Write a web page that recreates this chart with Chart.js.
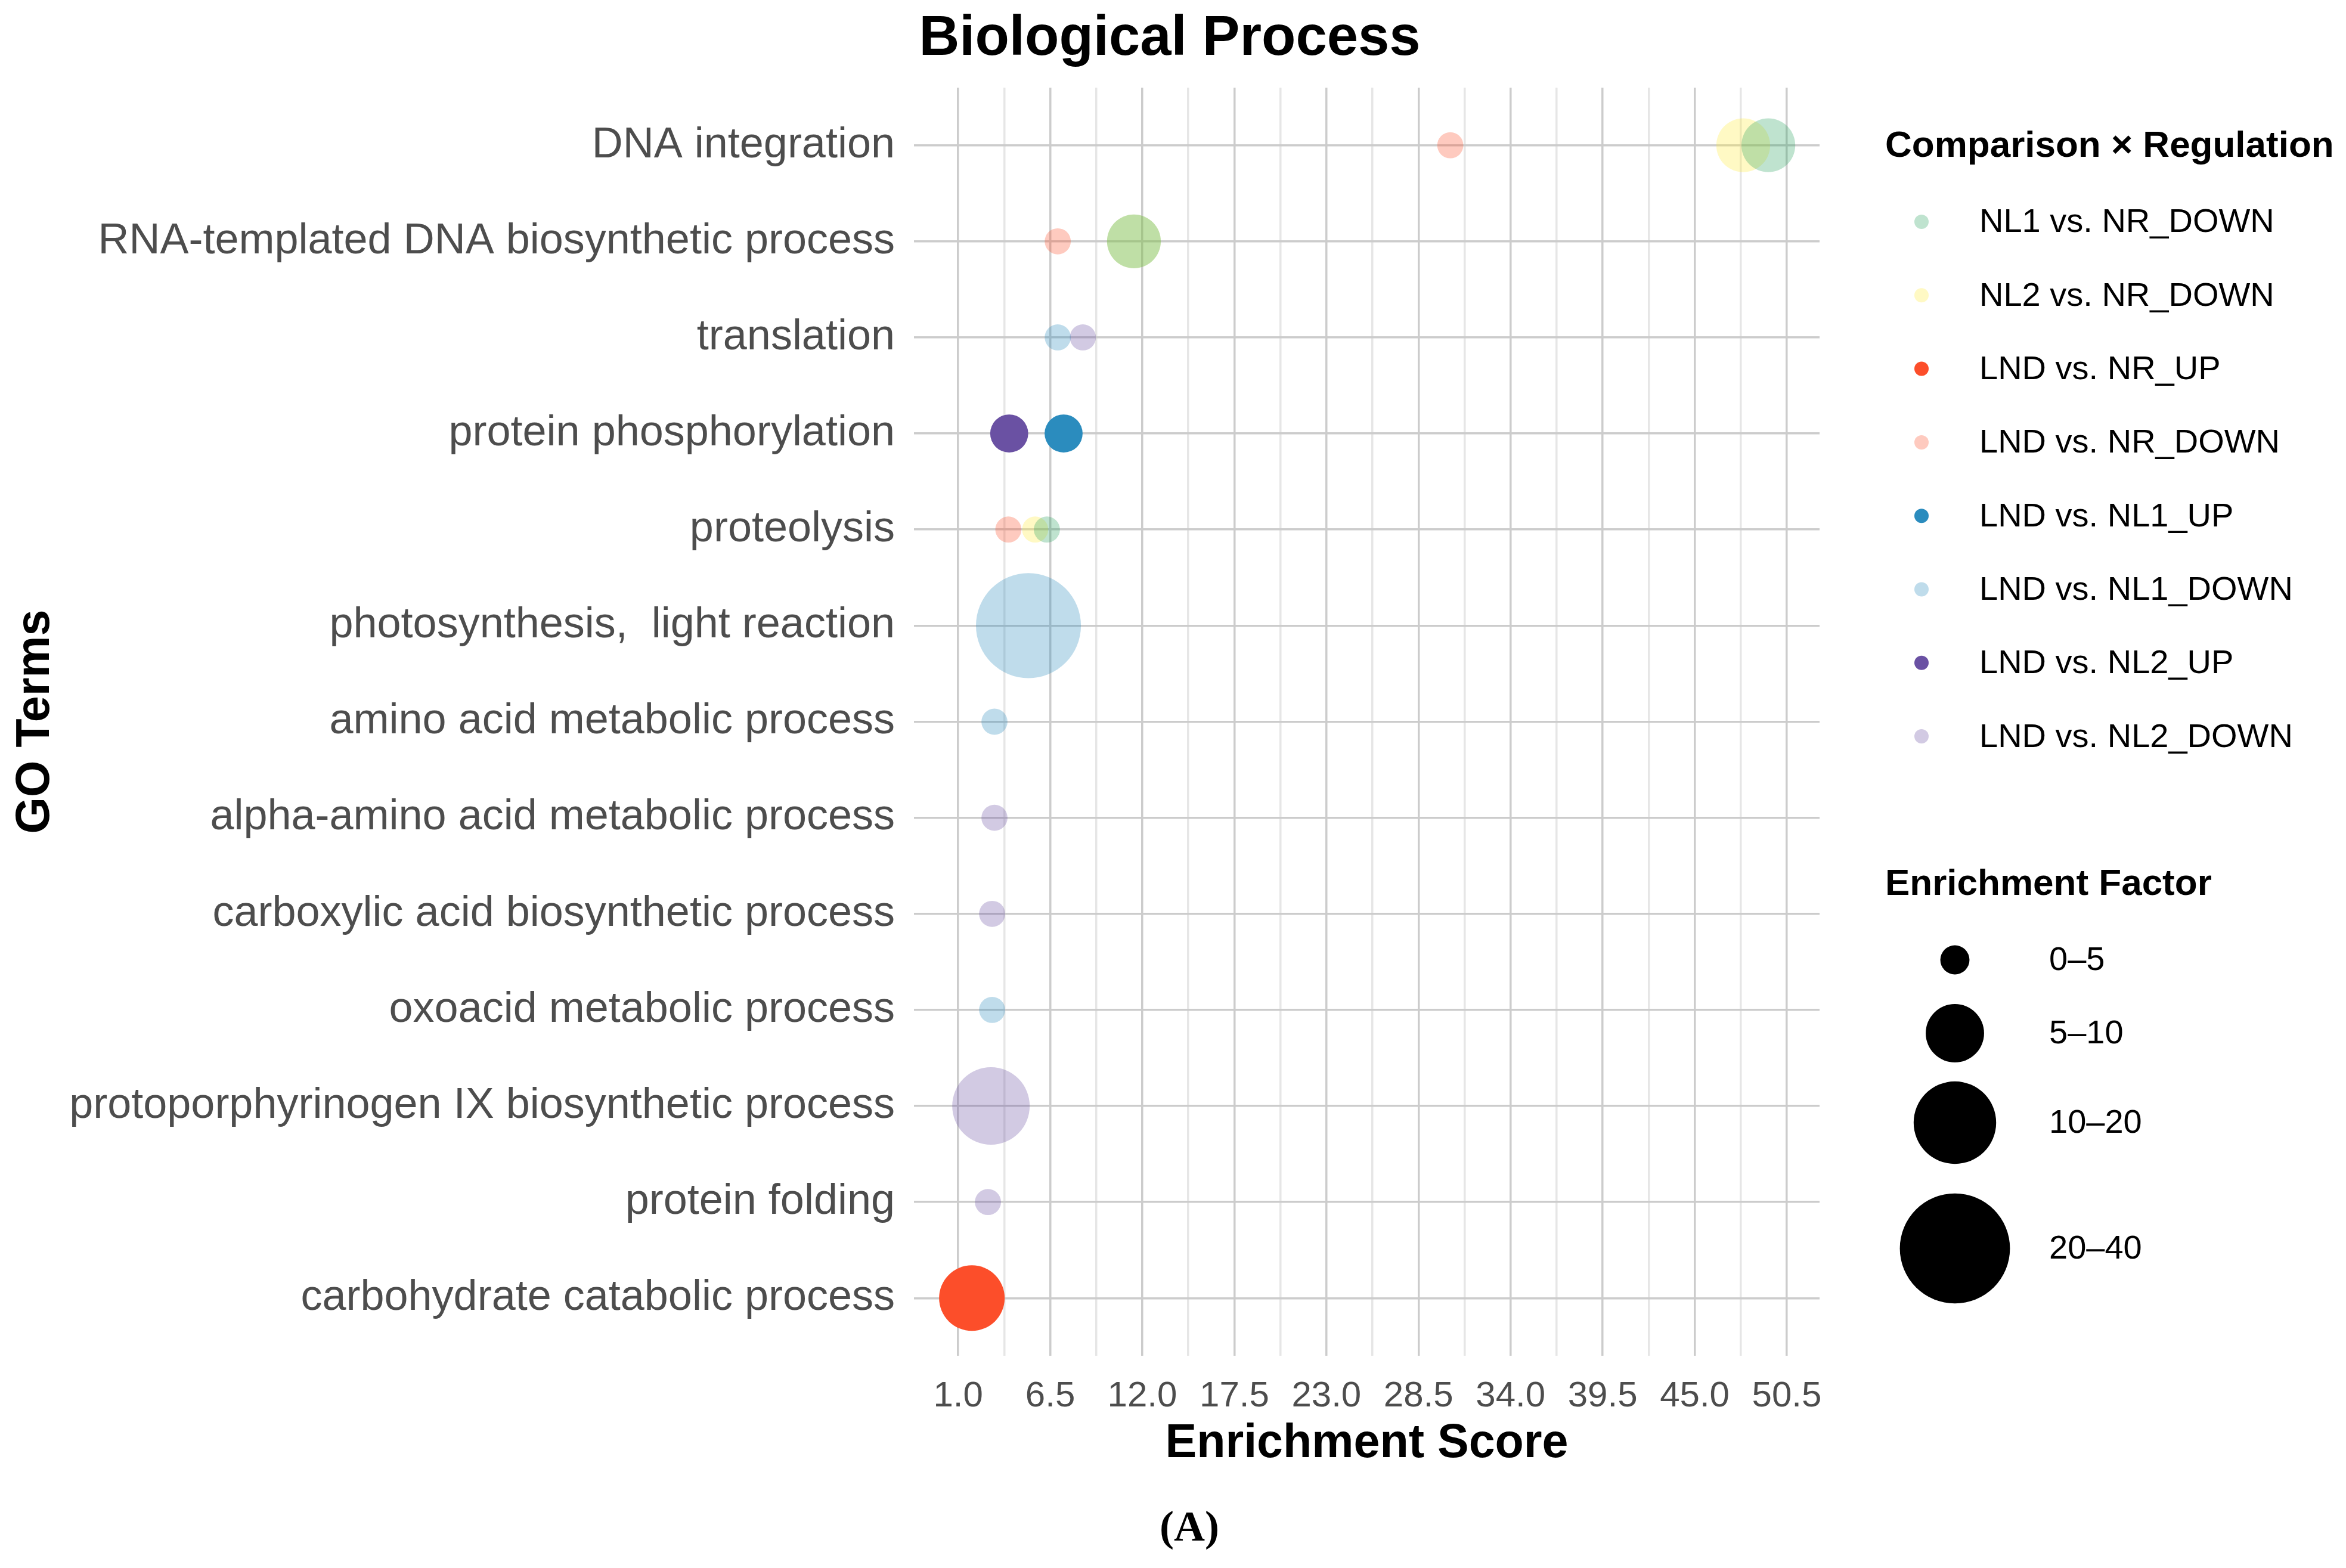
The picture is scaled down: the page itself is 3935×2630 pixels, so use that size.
<!DOCTYPE html>
<html>
<head>
<meta charset="utf-8">
<script src="https://cdn.jsdelivr.net/npm/chart.js@4.4.1/dist/chart.umd.min.js"></script>
<style>
  html, body { margin: 0; padding: 0; background: #fff; }
  #wrap { width: 3935px; height: 2630px; }
</style>
</head>
<body>
<div id="wrap"><canvas id="bubbleChart" width="3935" height="2630"></canvas></div>
<script>
// GO terms, top to bottom
const goTerms = [
    'DNA integration',
    'RNA-templated DNA biosynthetic process',
    'translation',
    'protein phosphorylation',
    'proteolysis',
    'photosynthesis,  light reaction',
    'amino acid metabolic process',
    'alpha-amino acid metabolic process',
    'carboxylic acid biosynthetic process',
    'oxoacid metabolic process',
    'protoporphyrinogen IX biosynthetic process',
    'protein folding',
    'carbohydrate catabolic process'
];

// legend order
const comparisons = [
    'NL1 vs. NR_DOWN', 'NL2 vs. NR_DOWN', 'LND vs. NR_UP', 'LND vs. NR_DOWN',
    'LND vs. NL1_UP', 'LND vs. NL1_DOWN', 'LND vs. NL2_UP', 'LND vs. NL2_DOWN'
];
const comparisonColors = [
    'rgba(44,162,95,0.3)', 'rgba(255,235,59,0.3)', 'rgba(252,78,42,1)', 'rgba(252,78,42,0.3)',
    'rgba(43,140,190,1)', 'rgba(43,140,190,0.3)', 'rgba(106,81,163,1)', 'rgba(106,81,163,0.3)'
];

// one entry per bubble
const pointTerm = [0, 0, 0, 1, 1, 1, 2, 2, 3, 3, 4, 4, 4, 5, 6, 7, 8, 9, 10, 11, 12];
const pointComparison = [
    'LND vs. NR_DOWN', 'NL2 vs. NR_DOWN', 'NL1 vs. NR_DOWN',
    'LND vs. NR_DOWN', 'NL1 vs. NR_DOWN', 'NL2 vs. NR_DOWN',
    'LND vs. NL1_DOWN', 'LND vs. NL2_DOWN',
    'LND vs. NL2_UP', 'LND vs. NL1_UP',
    'LND vs. NR_DOWN', 'NL2 vs. NR_DOWN', 'NL1 vs. NR_DOWN',
    'LND vs. NL1_DOWN', 'LND vs. NL1_DOWN', 'LND vs. NL2_DOWN', 'LND vs. NL2_DOWN',
    'LND vs. NL1_DOWN', 'LND vs. NL2_DOWN', 'LND vs. NL2_DOWN', 'LND vs. NR_UP'
];
const pointScore = [30.4, 47.9, 49.4, 6.95, 11.5, 11.5, 6.95, 8.45, 4.05, 7.3, 4.0, 5.6, 6.3,
    5.2, 3.17, 3.17, 3.03, 3.03, 2.96, 2.78, 1.82];
const pointFactor = [1.6, 6.8, 6.8, 1.6, 6.8, 6.8, 1.6, 1.6, 3.4, 3.4, 1.6, 1.6, 1.6,
    25.9, 1.6, 1.6, 1.6, 1.6, 14.1, 1.6, 10.1];

// x axis
const scoreTicks = [1.0, 6.5, 12.0, 17.5, 23.0, 28.5, 34.0, 39.5, 45.0, 50.5];
const scoreTickLabels = ['1.0', '6.5', '12.0', '17.5', '23.0', '28.5', '34.0', '39.5', '45.0', '50.5'];

// size legend
const factorLabels = ['0\u20135', '5\u201310', '10\u201320', '20\u201340'];
const factorLegendValues = [2, 8, 16, 28.5];

const FONT = '"Liberation Sans", Arial, sans-serif';
Chart.defaults.font.family = FONT;

function bubbleRadius(f) {
    return 17.3 * Math.sqrt(f);
}

// major + minor grid positions
const gridValues = [];
scoreTicks.forEach((v, i) => {
    gridValues.push(v);
    if (i < scoreTicks.length - 1) gridValues.push((v + scoreTicks[i + 1]) / 2);
});

const datasets = comparisons.map((name, i) => ({
    label: name,
    backgroundColor: comparisonColors[i],
    borderWidth: 0,
    hoverBorderWidth: 0,
    data: pointComparison
        .map((c, k) => c === name ? { x: pointScore[k], y: pointTerm[k], r: bubbleRadius(pointFactor[k]) } : null)
        .filter(p => p !== null)
}));

// title, caption and both legends
const extras = {
    id: 'extras',
    afterDraw(chart) {
        const ctx = chart.ctx;
        ctx.save();
        ctx.textBaseline = 'middle';
        ctx.fillStyle = '#000';

        ctx.textAlign = 'center';
        ctx.font = 'bold 94px ' + FONT;
        ctx.fillText('Biological Process', 1962, 66);

        ctx.font = 'bold 72px "Liberation Serif", "Times New Roman", serif';
        ctx.fillText('(A)', 1995, 2565);

        ctx.textAlign = 'left';
        ctx.font = 'bold 62px ' + FONT;
        ctx.fillText('Comparison \u00d7 Regulation', 3162, 246);
        comparisons.forEach((name, i) => {
            const y = 372 + i * 123.3;
            ctx.beginPath();
            ctx.arc(3223, y, 12, 0, Math.PI * 2);
            ctx.fillStyle = comparisonColors[i];
            ctx.fill();
            ctx.fillStyle = '#000';
            ctx.font = '56px ' + FONT;
            ctx.fillText(name, 3320, y + 2);
        });

        ctx.font = 'bold 62px ' + FONT;
        ctx.fillText('Enrichment Factor', 3162, 1484);
        const sizeY = [1610, 1733, 1883, 2094];
        factorLabels.forEach((lab, i) => {
            ctx.beginPath();
            ctx.arc(3279, sizeY[i], bubbleRadius(factorLegendValues[i]), 0, Math.PI * 2);
            ctx.fillStyle = '#000';
            ctx.fill();
            ctx.font = '56px ' + FONT;
            ctx.fillText(lab, 3437, sizeY[i] + 2);
        });
        ctx.restore();
    }
};

const ctx = document.getElementById('bubbleChart').getContext('2d');

new Chart(ctx, {
    type: 'bubble',
    data: { datasets: datasets },
    plugins: [extras],
    options: {
        responsive: false,
        animation: false,
        devicePixelRatio: 1,
        layout: { padding: { top: 147, right: 883, bottom: 0, left: 0 } },
        plugins: {
            legend: { display: false },
            tooltip: { enabled: false },
            title: { display: false }
        },
        scales: {
            x: {
                type: 'linear',
                min: -1.64,
                max: 52.46,
                afterBuildTicks: s => { s.ticks = gridValues.map(v => ({ value: v })); },
                afterFit: s => { s.height = 356; },
                ticks: {
                    autoSkip: false,
                    maxRotation: 0,
                    minRotation: 0,
                    padding: 32,
                    color: '#4D4D4D',
                    font: { size: 60 },
                    callback: v => {
                        const i = scoreTicks.indexOf(v);
                        return i >= 0 ? scoreTickLabels[i] : '';
                    }
                },
                grid: {
                    drawTicks: false,
                    lineWidth: 3.5,
                    color: c => scoreTicks.includes(c.tick.value) ? '#CCCCCC' : '#E6E6E6'
                },
                border: { display: false },
                title: {
                    display: true,
                    text: 'Enrichment Score',
                    color: '#000',
                    font: { size: 79, weight: 'bold' },
                    padding: { top: 0, bottom: 160 }
                }
            },
            y: {
                type: 'linear',
                reverse: true,
                min: -0.6,
                max: 12.6,
                afterBuildTicks: s => { s.ticks = goTerms.map((t, i) => ({ value: i })); },
                afterFit: s => { s.width = 1533; },
                ticks: {
                    autoSkip: false,
                    padding: 32,
                    color: '#4D4D4D',
                    font: { size: 72 },
                    callback: v => goTerms[v]
                },
                grid: { drawTicks: false, lineWidth: 3.5, color: '#CCCCCC' },
                border: { display: false },
                title: {
                    display: true,
                    text: 'GO Terms',
                    color: '#000',
                    font: { size: 79, weight: 'bold' },
                    padding: { top: 13, bottom: 0 }
                }
            }
        }
    }
});
</script>
</body>
</html>
